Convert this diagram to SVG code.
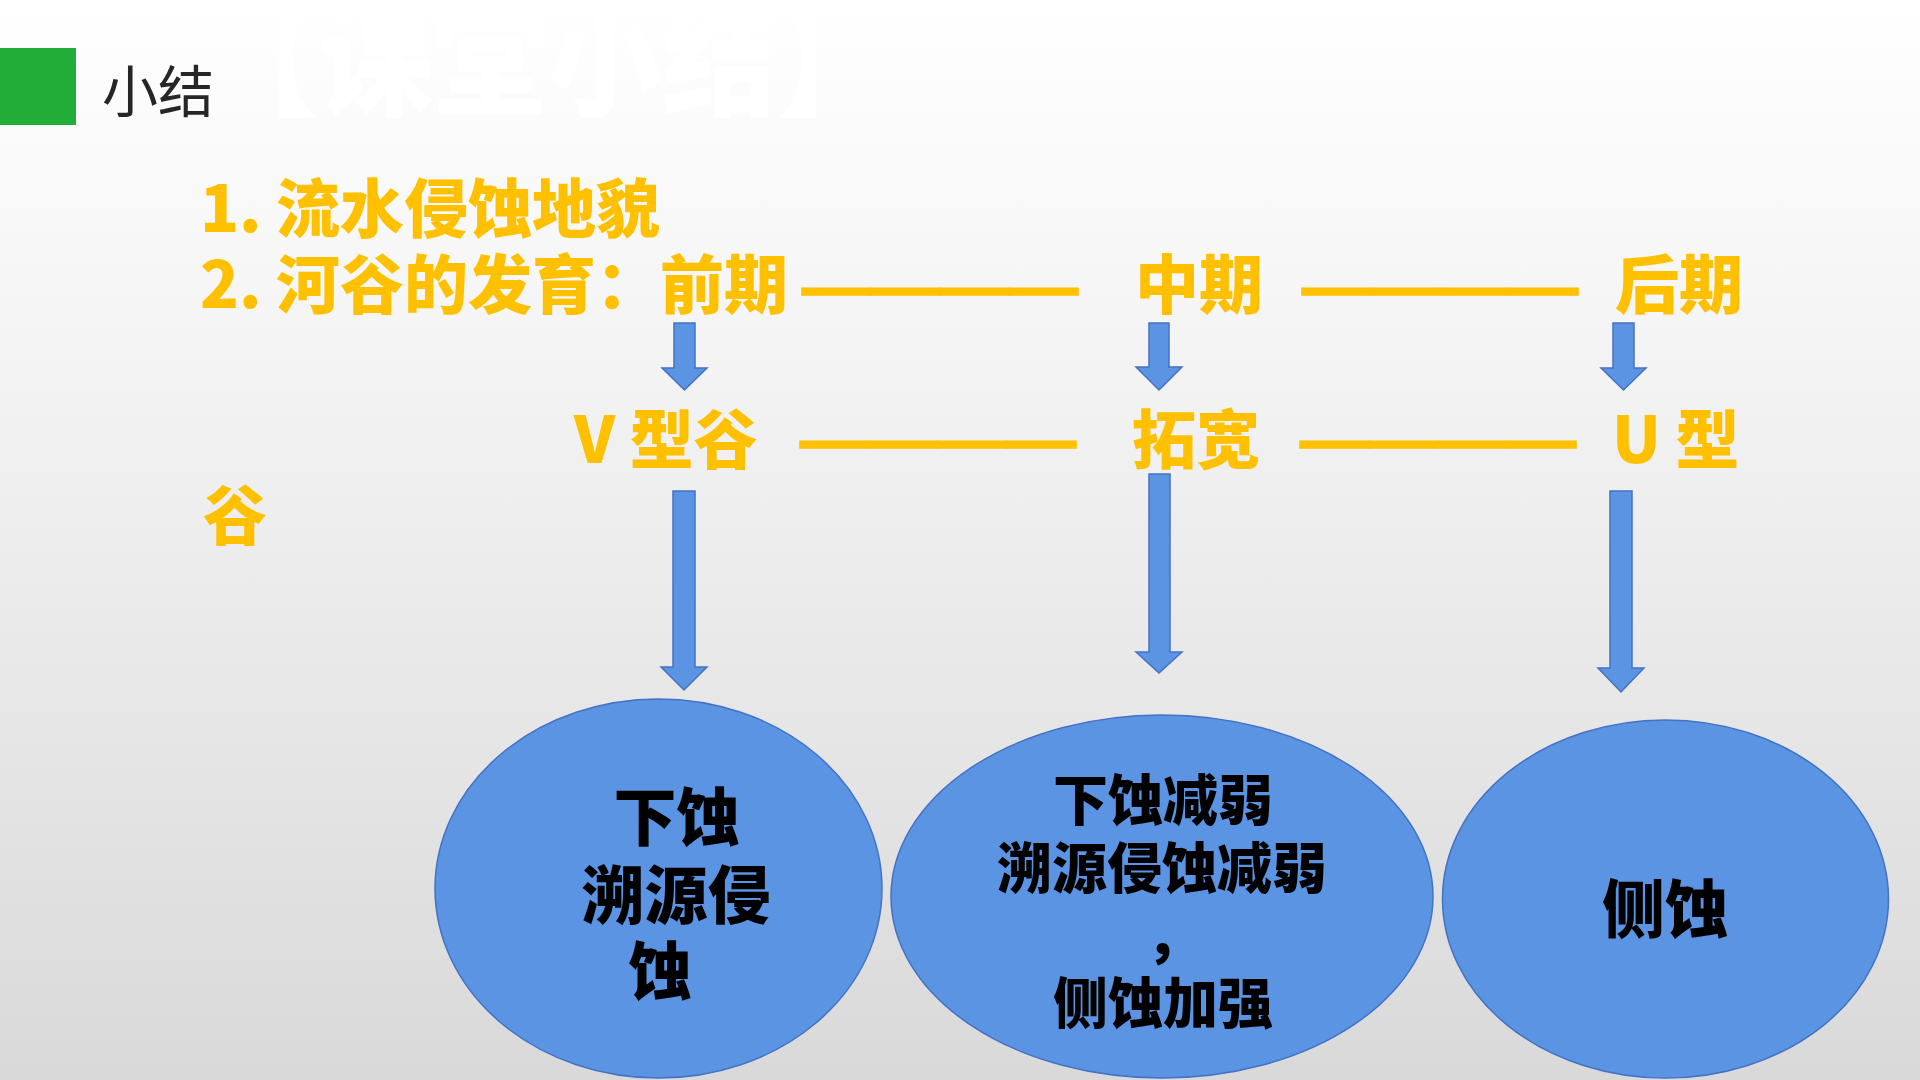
<svg xmlns="http://www.w3.org/2000/svg" width="1920" height="1080" viewBox="0 0 1920 1080">
<defs>
<linearGradient id="bg" x1="0" y1="0" x2="0" y2="1">
<stop offset="0" stop-color="#FFFFFF"/>
<stop offset="0.35" stop-color="#F3F3F3"/>
<stop offset="1" stop-color="#D9D9D9"/>
</linearGradient>
<style>
.y{font-family:"Noto Sans CJK SC","Noto Sans",sans-serif;font-weight:900;font-size:64px;fill:#FFC000}
.dash{font-family:"Liberation Sans",Arial,sans-serif;font-weight:700;font-size:69px;fill:#FFC000;stroke:#FFC000;stroke-width:1.5}
.e{fill:#5B94E2;stroke:#4472C4;stroke-width:1.5}
.a{fill:#5B94E2;stroke:#4472C4;stroke-width:1.5}
.b{font-family:"Noto Sans CJK SC","Noto Sans",sans-serif;font-weight:900;fill:#000000;text-anchor:middle}
</style>
</defs>
<rect x="0" y="0" width="1920" height="1080" fill="url(#bg)"/>
<g id="header">
<rect x="0" y="48" width="76" height="77" fill="#22AC38"/>
<text x="102" y="112" font-family="'Noto Sans CJK SC','Noto Sans',sans-serif" font-size="56" fill="#262626">小结</text>
<text x="204" y="106" font-family="'Noto Sans CJK SC','Noto Sans',sans-serif" font-weight="900" font-size="126" fill="#FFFFFF" textLength="687" lengthAdjust="spacingAndGlyphs">【课堂小结】</text>
</g>
<g id="line1">
<text class="y" x="200" y="232">1. 流水侵蚀地貌</text>
</g>
<g id="stage-early"><text class="y" x="200" y="308">2. 河谷的发育：前期</text></g>
<g id="stage-middle"><text class="y" x="1135" y="308">中期</text></g>
<g id="stage-late"><text class="y" x="1615" y="308">后期</text></g>
<g id="valley-v"><text class="y" x="574" y="463">V 型谷</text></g>
<g id="valley-widen"><text class="y" x="1132" y="463">拓宽</text></g>
<g id="valley-u"><text class="y" x="1612" y="463">U 型</text><text class="y" x="203" y="539">谷</text></g>
<g id="connectors">
<text class="dash" x="802" y="310" textLength="276" lengthAdjust="spacingAndGlyphs">————</text>
<text class="dash" x="1302" y="310" textLength="276" lengthAdjust="spacingAndGlyphs">————</text>
<text class="dash" x="800" y="463" textLength="276" lengthAdjust="spacingAndGlyphs">————</text>
<text class="dash" x="1300" y="463" textLength="276" lengthAdjust="spacingAndGlyphs">————</text>
<polygon class="a" points="674,323 695,323 695,368 707,368 684.5,390 662,368 674,368"/>
<polygon class="a" points="1149,323 1169,323 1169,367 1182,367 1159,390 1136,367 1149,367"/>
<polygon class="a" points="1613,323 1634,323 1634,368 1646,368 1623.5,390 1601,368 1613,368"/>
<polygon class="a" points="673,491 695,491 695,667 707,667 684,690 661,667 673,667"/>
<polygon class="a" points="1149,474 1170,474 1170,652 1182,652 1159,673 1136,652 1149,652"/>
<polygon class="a" points="1610,491 1632,491 1632,668 1644,668 1621,692 1598,668 1610,668"/>
</g>
<g id="node-erosion-early">
<ellipse class="e" cx="658.5" cy="888.5" rx="223.5" ry="189.5"/>
<text class="b" font-size="63" x="676.5" y="840">下蚀</text>
<text class="b" font-size="63" x="676" y="918">溯源侵</text>
<text class="b" font-size="63" x="660" y="994">蚀</text>
</g>
<g id="node-erosion-middle">
<ellipse class="e" cx="1162" cy="896.5" rx="271" ry="181.5"/>
<text class="b" font-size="55" x="1163" y="820">下蚀减弱</text>
<text class="b" font-size="55" x="1162" y="888">溯源侵蚀减弱</text>
<text font-family="'Noto Sans CJK SC','Noto Sans',sans-serif" font-weight="900" font-size="55" x="1146" y="956" fill="#000000">，</text>
<text class="b" font-size="55" x="1163" y="1023">侧蚀加强</text>
</g>
<g id="node-erosion-late">
<ellipse class="e" cx="1665.5" cy="899" rx="223" ry="179"/>
<text class="b" font-size="63" x="1665" y="932">侧蚀</text>
</g>
</svg>
